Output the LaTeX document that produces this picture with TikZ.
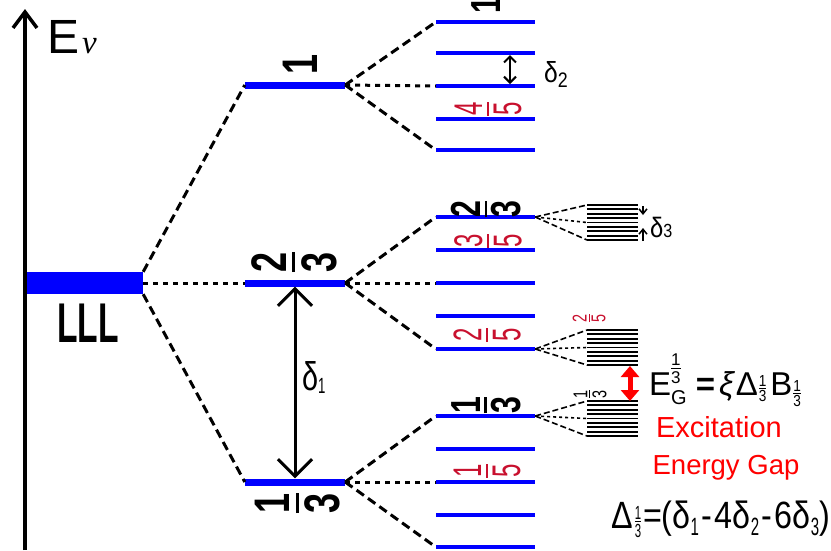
\documentclass[tikz,border=0pt]{standalone}
\usepackage{fontspec}
\setmainfont{Liberation Sans}
\newfontfamily\fcond{Liberation Sans}[FakeStretch=0.72]
\newfontfamily\fmid{Liberation Sans}[FakeStretch=0.85]
\newfontfamily\fnarrow{Liberation Sans}[FakeStretch=0.6]
\newfontfamily\fserif{Liberation Serif}
\usetikzlibrary{arrows.meta}
\definecolor{barblue}{RGB}{0,0,255}
\definecolor{fracred}{RGB}{200,16,46}
\definecolor{gapred}{RGB}{255,0,0}
% vertical-stack fraction: #1 gap, #2 rule thickness, #3 numerator, #4 denominator
\newcommand\vfr[4]{\vbox{\offinterlineskip\halign{\hfil##\hfil\cr#3\cr\noalign{\kern#1\hrule height#2\kern#1}#4\cr}}}
\tikzset{
  lvl/.style={fill=barblue, inner sep=0pt, minimum width=100pt, minimum height=7pt},
  sublvl/.style={fill=barblue, inner sep=0pt, minimum width=99pt, minimum height=4pt},
  conn/.style={line width=3pt, dash pattern=on 9pt off 5pt},
  connmid/.style={line width=3pt, dash pattern=on 5pt off 5pt},
  fconn/.style={line width=1.6pt, dash pattern=on 6pt off 3pt},
  fconnmid/.style={line width=1.6pt, dash pattern=on 3pt off 3pt},
  fine/.style={line width=1.8pt},
  lab/.style={inner sep=0pt, rotate=90},
  bigfr/.style={lab, font=\fontsize{50}{50}\fcond\bfseries},
  rfr/.style={lab, font=\fontsize{42}{42}\fcond\bfseries},
  redfr/.style={lab, text=fracred, font=\fontsize{40}{40}\fnarrow},
  smallfr/.style={lab, font=\fontsize{20}{20}\fcond},
  dbarb/.style={{Straight Barb[length=#1,width=2*#1]}-{Straight Barb[length=#1,width=2*#1]}},
}
\begin{document}
\begin{tikzpicture}[x=1pt,y=-1pt]
\useasboundingbox (0,0) rectangle (831,550);
% axis
\draw[line width=3.5pt, -{Straight Barb[length=16pt,width=24pt]}] (25,550) -- (25,9);
\node[anchor=base west, inner sep=0pt] (Ev) at (47,53) {\fontsize{48}{48}\selectfont E\hspace{3pt}{\fontsize{33}{33}\fserif\itshape ν}};
% LLL
\node[fill=barblue, inner sep=0pt, minimum width=116pt, minimum height=22pt] (LLL) at (85,283) {};
\node[anchor=base, inner sep=0pt] (LLLt) at (88,342) {\fontsize{56}{56}\fnarrow\bfseries LLL};
% middle levels
\node[lvl] (L1) at (295,85) {};
\node[lvl] (L23) at (295,283) {};
\node[lvl] (L13) at (295,482) {};
% right column levels
\node[sublvl] (R1) at (485.5,22) {};
\node[sublvl] (R2) at (485.5,53) {};
\node[sublvl] (R3) at (485.5,86) {};
\node[sublvl] (R4) at (485.5,119) {};
\node[sublvl] (R5) at (485.5,150) {};
\node[sublvl] (R6) at (485.5,217) {};
\node[sublvl] (R7) at (485.5,250) {};
\node[sublvl] (R8) at (485.5,283) {};
\node[sublvl] (R9) at (485.5,316) {};
\node[sublvl] (R10) at (485.5,349) {};
\node[sublvl] (R11) at (485.5,416) {};
\node[sublvl] (R12) at (485.5,449) {};
\node[sublvl] (R13) at (485.5,482) {};
\node[sublvl] (R14) at (485.5,515) {};
\node[sublvl] (R15) at (485.5,547) {};
% connectors LLL -> middle
\draw[conn] (LLL.north east) -- (L1.west);
\draw[connmid] (LLL.east) -- (L23.west);
\draw[conn] (LLL.south east) -- (L13.west);
% middle -> right
\draw[conn] (L1.east) -- (R1.west);
\draw[connmid] (L1.east) -- (R3.west);
\draw[conn] (L1.east) -- (R5.west);
\draw[conn] (L23.east) -- (R6.west);
\draw[connmid] (L23.east) -- (R8.west);
\draw[conn] (L23.east) -- (R10.west);
\draw[conn] (L13.east) -- (R11.west);
\draw[connmid] (L13.east) -- (R13.west);
\draw[conn] (L13.east) -- (R15.west);
% fine structure groups
\foreach \i in {0,...,8} {
  \draw[fine] (587,205+4.375*\i) -- (638,205+4.375*\i);
  \draw[fine] (587,330+4.375*\i) -- (638,330+4.375*\i);
  \draw[fine] (587,401+4.375*\i) -- (638,401+4.375*\i);
}
\coordinate (A1) at (587,205); \coordinate (A2) at (587,222.5); \coordinate (A3) at (587,240);
\coordinate (B1) at (587,330); \coordinate (B2) at (587,347.5); \coordinate (B3) at (587,365);
\coordinate (C1) at (587,401); \coordinate (C2) at (587,418.5); \coordinate (C3) at (587,436);
\draw[fconn] (R6.east) -- (A1); \draw[fconnmid] (R6.east) -- (A2); \draw[fconn] (R6.east) -- (A3);
\draw[fconn] (R10.east) -- (B1); \draw[fconnmid] (R10.east) -- (B2); \draw[fconn] (R10.east) -- (B3);
\draw[fconn] (R11.east) -- (C1); \draw[fconnmid] (R11.east) -- (C2); \draw[fconn] (R11.east) -- (C3);
% delta arrows
\draw[line width=3pt, dbarb=17pt] (L23.south) -- (L13.north);
\node[anchor=base west, inner sep=0pt] (d1) at (302,390) {\fontsize{40}{40}\fcond δ\raisebox{-3pt}{\fontsize{22}{22}\fnarrow 1}};
\coordinate (d2a) at (510,55); \coordinate (d2b) at (510,84);
\draw[line width=2pt, dbarb=6pt] (d2a) -- (d2b);
\node[anchor=base west, inner sep=0pt] (d2) at (544,82) {\fontsize{29}{29}\fmid δ\raisebox{-5pt}{\fontsize{21}{21}\selectfont 2}};
\coordinate (d3a) at (643,206); \coordinate (d3b) at (643,215);
\coordinate (d3c) at (643,241); \coordinate (d3d) at (643,228);
\draw[line width=1.5pt, -{Straight Barb[length=5pt,width=8pt]}] (d3a) -- (d3b);
\draw[line width=1.5pt, -{Straight Barb[length=5pt,width=8pt]}] (d3c) -- (d3d);
\node[anchor=base west, inner sep=0pt] (d3) at (650,237) {\fontsize{28}{28}\fmid δ{\fontsize{19}{19}\selectfont 3}};
% gap arrow
\coordinate (g1) at (630,366); \coordinate (g2) at (630,401);
\draw[gapred, line width=5pt, {Triangle[length=11pt,width=18pt]}-{Triangle[length=11pt,width=18pt]}] (g1) -- (g2);
% fraction labels
\node[bigfr] (t1) at (300,64) {1};
\node[bigfr] (t23) at (294,262) {\vfr{6pt}{3pt}{2}{3}};
\node[bigfr] (t13) at (298,503) {\vfr{6pt}{3pt}{1}{3}};
\node[rfr] (r1) at (486,5) {1};
\node[rfr] (r23) at (486,209) {\vfr{4pt}{2.5pt}{2}{3}};
\node[rfr] (r13) at (486,405) {\vfr{4pt}{2.5pt}{1}{3}};
\node[redfr] (r45) at (488,109) {\vfr{5pt}{1.5pt}{4}{5}};
\node[redfr] (r35) at (488,241) {\vfr{5pt}{1.5pt}{3}{5}};
\node[redfr] (r25) at (487,335) {\vfr{5pt}{1.5pt}{2}{5}};
\node[redfr] (r15) at (487,471) {\vfr{5pt}{1.5pt}{1}{5}};
\node[smallfr, text=fracred] (s25) at (589,318) {\vfr{2pt}{1pt}{2}{5}};
\node[smallfr] (s13) at (590,394) {\vfr{2pt}{1pt}{1}{3}};
% gap formula
\node[anchor=base west, inner sep=0pt] (EG) at (649,395) {\fontsize{33}{33}\selectfont E\rlap{\raisebox{12pt}{\fontsize{17}{17}\selectfont\vfr{2pt}{1.2pt}{1}{3}}}\raisebox{-9pt}{\fontsize{20}{20}\selectfont G}\hspace{9pt}{\bfseries =}\hspace{4pt}{\itshape ξ}\hspace{2pt}Δ\hspace{1pt}\raisebox{-6pt}{\fontsize{16}{16}\fmid\vfr{1.5pt}{0.8pt}{1}{3}}\hspace{4pt}B\hspace{1pt}\raisebox{-11pt}{\fontsize{16}{16}\fmid\vfr{1.5pt}{0.8pt}{1}{3}}};
\node[anchor=base, inner sep=0pt, text=gapred] (ex1) at (719,437) {\fontsize{29}{29}\selectfont Excitation};
\node[anchor=base, inner sep=0pt, text=gapred] (ex2) at (726,474) {\fontsize{27.5}{27.5}\selectfont Energy Gap};
% delta formula
\node[anchor=base west, inner sep=0pt] (DF) at (611,528) {\fontsize{38}{38}\fmid Δ\hspace{2pt}\raisebox{-9pt}{\fontsize{19}{19}\fnarrow\vfr{1.5pt}{0.8pt}{1}{3}}\hspace{2pt}=(δ\raisebox{-7pt}{\fontsize{25}{25}\fnarrow 1}\hspace{2.5pt}-\hspace{2.5pt}4δ\raisebox{-7pt}{\fontsize{25}{25}\fnarrow 2}\hspace{2.5pt}-\hspace{2.5pt}6δ\raisebox{-7pt}{\fontsize{25}{25}\fnarrow 3})};
\end{tikzpicture}
\end{document}
